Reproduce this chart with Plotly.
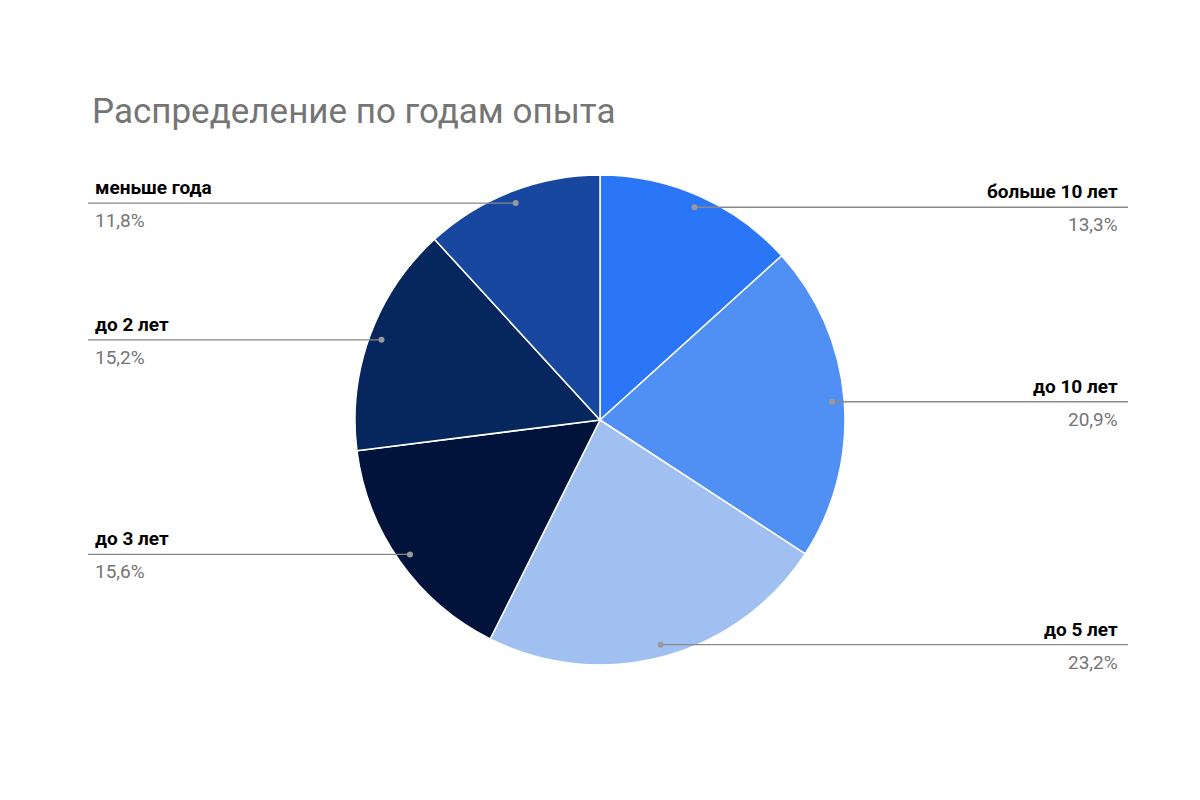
import math
import plotly.graph_objects as go

labels = ["больше 10 лет", "до 10 лет", "до 5 лет", "до 3 лет", "до 2 лет", "меньше года"]
values = [13.3, 20.9, 23.2, 15.6, 15.2, 11.8]
colors = ["#2a76f6", "#5090f5", "#a0c0f2", "#01133a", "#06265e", "#17479e"]

W, H = 1200, 800
cx, cy, R = 592, 412, 245

def px(x): return x / W
def py(y): return 1 - y / H

fig = go.Figure(go.Pie(
    labels=labels, values=values, sort=False, direction="clockwise", rotation=0,
    marker=dict(colors=colors, line=dict(color="white", width=1.5)),
    textinfo="none", hoverinfo="label+percent", showlegend=False,
    domain=dict(x=[px(cx - R), px(cx + R)], y=[py(cy + R), py(cy - R)]),
))

shapes, annotations = [], []
total = sum(values)
cum = 0
for lab, v in zip(labels, values):
    mid = (cum + v / 2) / total * 2 * math.pi
    cum += v
    dx = cx + 0.95 * R * math.sin(mid)
    dy = cy - 0.95 * R * math.cos(mid)
    right = math.sin(mid) >= 0
    xend = 1120 if right else 80
    shapes.append(dict(type="line", xref="paper", yref="paper",
                       x0=px(dx), y0=py(dy), x1=px(xend), y1=py(dy),
                       line=dict(color="#888888", width=1.3)))
    shapes.append(dict(type="circle", xref="paper", yref="paper",
                       x0=px(dx - 3), x1=px(dx + 3), y0=py(dy + 3), y1=py(dy - 3),
                       fillcolor="#999999", line=dict(width=0)))
    tx = 1112 if right else 85
    anc = "right" if right else "left"
    annotations.append(dict(x=px(tx), y=py(dy - 2), xref="paper", yref="paper",
                            text="<b>%s</b>" % lab, showarrow=False, xanchor=anc, yanchor="bottom",
                            font=dict(size=19, color="#000000", family="Roboto")))
    annotations.append(dict(x=px(tx), y=py(dy + 4), xref="paper", yref="paper",
                            text=("%.1f%%" % (v / total * 100)).replace(".", ","), showarrow=False,
                            xanchor=anc, yanchor="top",
                            font=dict(size=19, color="#757575", family="Roboto")))

annotations.append(dict(x=px(82), y=py(103), xref="paper", yref="paper",
                        text="Распределение по годам опыта", showarrow=False,
                        xanchor="left", yanchor="middle",
                        font=dict(size=35, color="#757575", family="Roboto")))

fig.update_layout(width=W, height=H, margin=dict(l=0, r=0, t=0, b=0),
                  paper_bgcolor="white", plot_bgcolor="white",
                  shapes=shapes, annotations=annotations)
fig.write_html("out.html")
